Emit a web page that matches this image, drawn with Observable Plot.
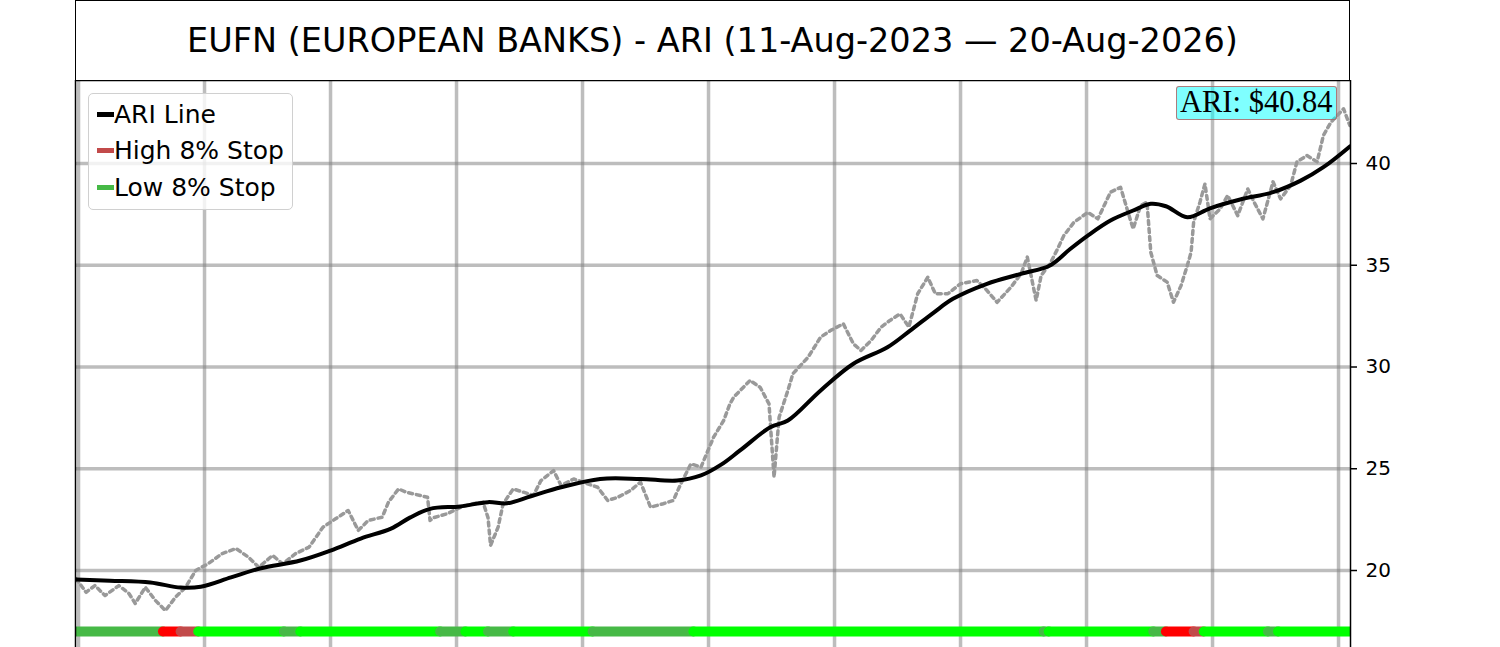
<!DOCTYPE html>
<html>
<head>
<meta charset="utf-8">
<script src="https://cdn.jsdelivr.net/npm/d3@7"></script>
<script src="https://cdn.jsdelivr.net/npm/@observablehq/plot@0.6"></script>
<style>
  html, body { margin: 0; padding: 0; background: #fff; overflow: hidden; }
  #page { position: relative; width: 1500px; height: 647px; overflow: hidden; font-family: "DejaVu Sans", sans-serif; }
  #title { position: absolute; left: 75px; top: 0; width: 1275px; height: 81px; box-sizing: border-box;
           border: 1.5px solid #000; display: flex; align-items: center; justify-content: center;
           font-size: 33.5px; color: #000; background: #fff; }
  #chart { position: absolute; left: 0; top: 80px; }
  #legend { position: absolute; left: 88px; top: 93px; width: 205px; height: 117px; box-sizing: border-box;
            border: 1px solid #d0d0d0; border-radius: 5px; background: rgba(255,255,255,0.8); z-index: 3; }
  .row { position: absolute; left: 8px; height: 30px; display: flex; align-items: center; font-size: 25px; color: #000; }
  .sw { width: 17px; height: 5px; margin-right: 0px; }
  #ann { position: absolute; left: 1176px; top: 86px; height: 34px; box-sizing: border-box; padding: 0 3px;
         background: rgba(0,255,255,0.5); border: 1.5px solid rgba(190,70,70,0.7); border-radius: 3px;
         font-family: "Liberation Serif", "Times New Roman", serif; font-size: 30.5px; line-height: 31px; color: #000; z-index: 3; white-space: nowrap; }
</style>
</head>
<body>
<div id="page">
  <div id="title"></div>
  <div id="chart"></div>
  <div id="legend"></div>
  <div id="ann"></div>
</div>
<script>
// ---- data (x = trading-day index, 100 per grid step) ----
const priceT = [-2,6,13,21,32,40,45,53,61,69,77,85,93,103,114,125,135,143,154,162,172,183,194,204,214,222,230,241,246,254,260,277,279,282,293,303,313,321,325,327,333,337,345,353,361,367,377,383,393,404,412,420,428,438,446,454,464,472,478,486,494,504,512,517,520,533,541,548,552,556,563,567,579,589,597,607,615,621,629,637,644,652,659,666,674,680,690,700,713,721,729,740,748,753,760,764,771,777,782,790,801,809,819,827,833,837,843,848,851,856,864,869,875,880,883,885,890,894,898,906,912,920,928,933,940,948,954,962,967,975,983,988,994,999,1004,1009];
const priceV = [19.6,18.93,19.26,18.77,19.26,18.87,18.38,19.18,18.53,18.03,18.69,19.18,20.0,20.34,20.83,21.08,20.65,20.16,20.74,20.33,20.82,21.15,22.13,22.54,22.95,21.97,22.46,22.62,23.36,24.01,23.85,23.6,22.46,22.6,22.8,23.1,23.28,23.36,22.6,21.23,22.13,23.28,24.01,23.85,23.69,24.42,24.91,24.18,24.5,24.26,24.09,23.44,23.6,23.93,24.34,23.11,23.28,23.44,24.26,25.24,25.08,26.55,27.37,28.19,28.52,29.34,29.0,28.19,24.58,27.53,28.85,29.67,30.48,31.47,31.8,32.12,31.14,30.81,31.3,31.96,32.29,32.61,31.96,33.6,34.41,33.6,33.6,34.09,34.25,33.76,33.18,33.92,34.58,35.4,33.27,34.5,35.07,35.8,36.46,37.11,37.6,37.28,38.59,38.83,37.6,36.79,37.94,38.1,35.64,34.5,34.17,33.18,34.0,34.99,35.64,37.11,38.1,39.0,37.28,37.77,38.43,37.44,38.75,38.1,37.28,39.1,38.26,38.92,40.08,40.39,40.08,41.38,42.03,42.36,42.69,41.87];

const ariT = [-2,25,57,81,97,121,144,176,200,224,248,263,279,303,325,340,359,383,414,446,475,494,510,525,549,563,589,615,642,660,679,694,721,748,771,787,801,819,837,851,863,880,898,922,948,970,988,1009];
const ariV = [19.56,19.5,19.41,19.16,19.2,19.66,20.1,20.49,20.98,21.57,22.06,22.6,23.03,23.15,23.36,23.3,23.65,24.09,24.5,24.5,24.42,24.67,25.2,25.9,27.04,27.37,28.85,30.16,30.97,31.79,32.69,33.35,34.09,34.58,34.99,35.8,36.46,37.2,37.69,38.02,37.9,37.36,37.8,38.23,38.59,39.16,39.82,40.84];

const stopStart = [-2,67,81,95,163,176,287,307,325,345,408,488,766,770,853,863,885,893,944,952];
const stopEnd   = [67,81,95,163,176,287,307,325,345,408,488,766,770,853,863,885,893,944,952,1009];
const stopState = ["lowWeak","high","highWeak","low","lowWeak","low","lowWeak","low","lowWeak","low","lowWeak","low","lowWeak","low","lowWeak","high","highWeak","low","lowWeak","low"];

const xTicks = [0,100,200,300,400,500,600,700,800,900,1000];
const yTicks = [20,25,30,35,40];
const titleText = "EUFN (EUROPEAN BANKS) - ARI (11-Aug-2023 \u2014 20-Aug-2026)";
const legendLabels = ["ARI Line","High 8% Stop","Low 8% Stop"];
const stopLevel = 17;

// ---- build ----
const price = priceT.map((t,i)=>({t, v: priceV[i]}));
const ari = ariT.map((t,i)=>({t, v: ariV[i]}));
const stops = stopStart.map((s,i)=>({s, e: stopEnd[i], state: stopState[i], y: stopLevel}));

const colorDomain = ["low","lowWeak","high","highWeak"];
const colorRange = ["#00ff00","#46b946","#ff0000","#c24a4a"];

const grid = {stroke:"#808080", strokeOpacity:0.52, strokeWidth:3.5};

const chart = Plot.plot({
  width: 1500,
  height: 620,
  marginLeft: 75,
  marginRight: 150,
  marginTop: 0,
  marginBottom: 20,
  style: {fontFamily: "DejaVu Sans, sans-serif", fontSize: "20px", background: "transparent"},
  x: {domain: [-2.4, 1009.5], axis: null},
  y: {domain: [14.595, 44.079], axis: null},
  color: {type: "ordinal", domain: colorDomain, range: colorRange},
  marks: [
    Plot.ruleX(xTicks, grid),
    Plot.ruleY(yTicks, grid),
    Plot.line(price, {x:"t", y:"v", stroke:"#999999", strokeWidth:3.5, strokeDasharray:"4,4", clip:true}),
    Plot.link(stops, {x1:"s", x2:"e", y1:"y", y2:"y", stroke:"state", strokeWidth:10, strokeLinecap:"round", clip:true}),
    Plot.line(ari, {x:"t", y:"v", stroke:"#000", strokeWidth:4, curve:"catmull-rom", clip:true}),
    Plot.frame({stroke:"#000", strokeWidth:1.5}),
    Plot.axisY(yTicks, {anchor:"right", tickSize:6, tickPadding:9, fontSize:20, stroke:"#000", strokeWidth:1.5, label:null, color:"#000"})
  ]
});
document.getElementById("chart").appendChild(chart);

document.getElementById("title").textContent = titleText;
document.getElementById("ann").textContent = "ARI: $" + ariV[ariV.length-1].toFixed(2);

const legendColors = ["#000000", colorRange[3], colorRange[1]];
const leg = document.getElementById("legend");
legendLabels.forEach((lab,i)=>{
  const r = document.createElement("div");
  r.className = "row";
  r.style.top = (5 + i*36.5) + "px";
  const sw = document.createElement("span");
  sw.className = "sw";
  sw.style.background = legendColors[i];
  const tx = document.createElement("span");
  tx.textContent = lab;
  r.appendChild(sw); r.appendChild(tx);
  leg.appendChild(r);
});
</script>
</body>
</html>
